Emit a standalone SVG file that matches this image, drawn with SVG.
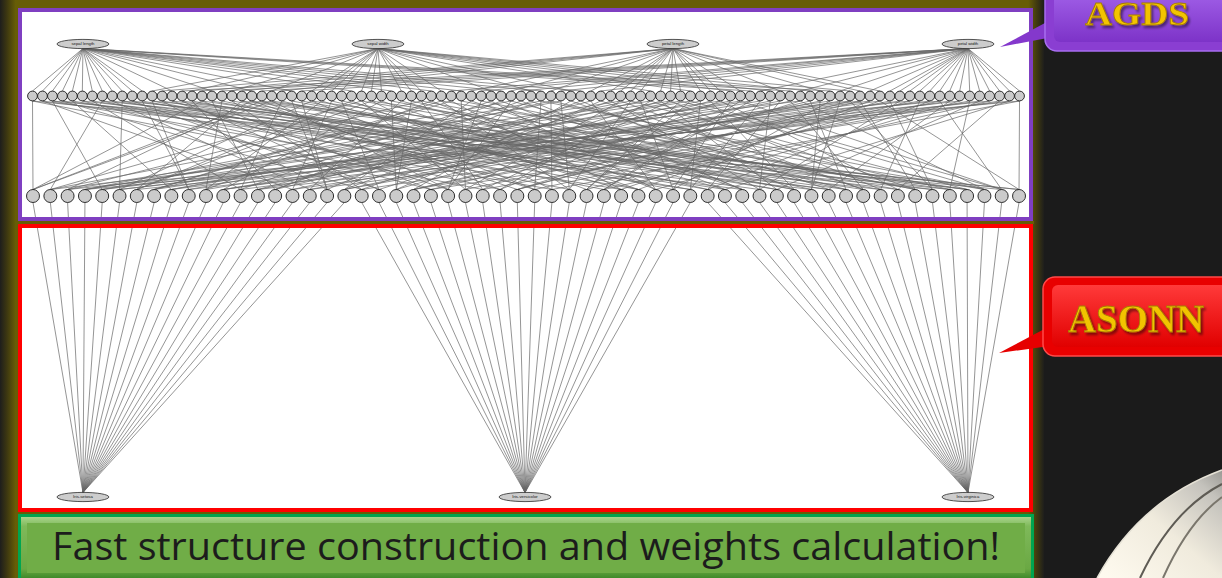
<svg xmlns="http://www.w3.org/2000/svg" width="1222" height="578" viewBox="0 0 1222 578">
<defs>
<linearGradient id="panel" x1="0" y1="0" x2="1" y2="0">
<stop offset="0" stop-color="#1e1e1c"/><stop offset="0.006" stop-color="#3a3512"/><stop offset="0.015" stop-color="#675d06"/><stop offset="0.985" stop-color="#675d06"/><stop offset="0.993" stop-color="#403a10"/><stop offset="1" stop-color="#1e1e1c"/>
</linearGradient>
<linearGradient id="greenBevel" x1="0" y1="0" x2="0" y2="1">
<stop offset="0" stop-color="#a9d48c"/><stop offset="0.15" stop-color="#7fb95a"/><stop offset="0.85" stop-color="#6aa843"/><stop offset="1" stop-color="#3f8a2a"/>
</linearGradient>
<linearGradient id="purp" x1="0" y1="0" x2="0" y2="1">
<stop offset="0" stop-color="#a565ec"/><stop offset="1" stop-color="#7d33c8"/>
</linearGradient>
<linearGradient id="redg" x1="0" y1="0" x2="0" y2="1">
<stop offset="0" stop-color="#ff3a3a"/><stop offset="1" stop-color="#e00000"/>
</linearGradient>
<linearGradient id="silver" x1="0" y1="1" x2="1" y2="0">
<stop offset="0" stop-color="#fffbf0"/><stop offset="0.5" stop-color="#f0ebdd"/><stop offset="0.85" stop-color="#c4c2bc"/><stop offset="1" stop-color="#9a9994"/>
</linearGradient>
<filter id="ds" x="-10%" y="-30%" width="130%" height="170%">
<feDropShadow dx="2" dy="2.5" stdDeviation="1" flood-color="#000" flood-opacity="0.45"/>
</filter>
<style>
.e{fill:none;stroke:#666;stroke-width:0.7}
.v{fill:#cbcbcb;stroke:#1a1a1a;stroke-width:0.9}
.el{fill:#cdcdcd;stroke:#2a2a2a;stroke-width:0.8}
.lb{font-family:"Liberation Sans",Arial,sans-serif;font-size:4.3px;fill:#111;text-anchor:middle}
.gold{font-family:"Liberation Serif","Times New Roman",serif;font-weight:bold;fill:#f2c400;stroke:#a67c00;stroke-width:0.8;filter:url(#ds)}
</style>
</defs>
<rect width="1222" height="578" fill="#1b1b1b"/>
<rect x="0" y="0" width="1044" height="578" fill="url(#panel)"/>
<rect x="20" y="10" width="1011" height="209" fill="#fff"/>
<rect x="20" y="226" width="1011" height="284" fill="#fff"/>

<g id="graph" transform="translate(32.5 0) scale(0.997 1)">
<g id="connectors">
<path class="e" d="M0 91L50.6 48.5L10 91M20 91L50.6 48.5L30 91M40 91L50.6 48.5L50 91M60 91L50.6 48.5L70 91M80 91L50.6 48.5L90 91M100 91L50.6 48.5L110 91M140 91L50.6 48.5L180 91M220 91L50.6 48.5L260 91M320 91L50.6 48.5L360 91M400 91L50.6 48.5L430 91M470 91L50.6 48.5L510 91M550 91L50.6 48.5L720 91M760 91L50.6 48.5L800 91"/>
<path class="e" d="M120 91L346.5 48.5L160 91M200 91L346.5 48.5L240 91M280 91L346.5 48.5L290 91M300 91L346.5 48.5L310 91M330 91L346.5 48.5L340 91M350 91L346.5 48.5L370 91M380 91L346.5 48.5L390 91M410 91L346.5 48.5L460 91M500 91L346.5 48.5L540 91M620 91L346.5 48.5L660 91M700 91L346.5 48.5L740 91M780 91L346.5 48.5L820 91"/>
<path class="e" d="M130 91L642.4 48.5L170 91M210 91L642.4 48.5L250 91M440 91L642.4 48.5L480 91M520 91L642.4 48.5L560 91M580 91L642.4 48.5L590 91M600 91L642.4 48.5L610 91M630 91L642.4 48.5L640 91M650 91L642.4 48.5L670 91M680 91L642.4 48.5L690 91M710 91L642.4 48.5L750 91M790 91L642.4 48.5L830 91M850 91L642.4 48.5"/>
<path class="e" d="M150 91L938.3 48.5L190 91M230 91L938.3 48.5L270 91M420 91L938.3 48.5L450 91M490 91L938.3 48.5L530 91M570 91L938.3 48.5L730 91M770 91L938.3 48.5L810 91M840 91L938.3 48.5L860 91M870 91L938.3 48.5L880 91M890 91L938.3 48.5L900 91M910 91L938.3 48.5L920 91M930 91L938.3 48.5L940 91M950 91L938.3 48.5L960 91M970 91L938.3 48.5L980 91M990 91L938.3 48.5"/>
<path class="e" d="M0 101L0.5 189.5L240 101M170 101L0.5 189.5L230 101M70 101L17.9 189.5L330 101M480 101L17.9 189.5L770 101M220 101L35.2 189.5L390 101M590 101L35.2 189.5L910 101M510 101L52.6 189.5L620 101M640 101L52.6 189.5L990 101M20 101L69.9 189.5L820 101M690 101L69.9 189.5L530 101M90 101L87.3 189.5L280 101M830 101L87.3 189.5L880 101M320 101L104.6 189.5L340 101M210 101L104.6 189.5L960 101M720 101L122 189.5L410 101M520 101L122 189.5L420 101M40 101L139.3 189.5L660 101M600 101L139.3 189.5L840 101M110 101L156.7 189.5L120 101M650 101L156.7 189.5L930 101M400 101L174 189.5L290 101M710 101L174 189.5L190 101M800 101L191.4 189.5L350 101M850 101L191.4 189.5L730 101M60 101L208.7 189.5L460 101M250 101L208.7 189.5L900 101M180 101L226.1 189.5L700 101M560 101L226.1 189.5L980 101M470 101L243.4 189.5L160 101M610 101L243.4 189.5L490 101M10 101L260.8 189.5L300 101M670 101L260.8 189.5L870 101M80 101L278.1 189.5L370 101M750 101L278.1 189.5L950 101M260 101L295.5 189.5L500 101M130 101L295.5 189.5L270 101M550 101L312.8 189.5L740 101M440 101L312.8 189.5L810 101"/>
<path class="e" d="M30 101L330.2 189.5L200 101M580 101L330.2 189.5L920 101M100 101L347.5 189.5L310 101M630 101L347.5 189.5L150 101M360 101L364.9 189.5L380 101M680 101L364.9 189.5L570 101M760 101L382.2 189.5L540 101M790 101L382.2 189.5L890 101M50 101L399.6 189.5L780 101M170 101L399.6 189.5L970 101M140 101L416.9 189.5L240 101M480 101L416.9 189.5L450 101M430 101L434.3 189.5L330 101M590 101L434.3 189.5L860 101M0 101L451.6 189.5L390 101M640 101L451.6 189.5L940 101M70 101L469 189.5L620 101M690 101L469 189.5L230 101M220 101L486.3 189.5L820 101M830 101L486.3 189.5L770 101M510 101L503.7 189.5L280 101M210 101L503.7 189.5L910 101M20 101L521 189.5L340 101M520 101L521 189.5L990 101M90 101L538.4 189.5L410 101M600 101L538.4 189.5L530 101M320 101L555.7 189.5L660 101M650 101L555.7 189.5L880 101M720 101L573.1 189.5L120 101M710 101L573.1 189.5L960 101M40 101L590.4 189.5L290 101M850 101L590.4 189.5L420 101M110 101L607.8 189.5L350 101M250 101L607.8 189.5L840 101M400 101L625.1 189.5L460 101M560 101L625.1 189.5L930 101M800 101L642.5 189.5L700 101M610 101L642.5 189.5L190 101M60 101L659.8 189.5L160 101M670 101L659.8 189.5L730 101"/>
<path class="e" d="M180 101L677.2 189.5L300 101M750 101L677.2 189.5L900 101M470 101L694.5 189.5L370 101M130 101L694.5 189.5L980 101M10 101L711.9 189.5L500 101M440 101L711.9 189.5L490 101M80 101L729.2 189.5L740 101M580 101L729.2 189.5L870 101M260 101L746.6 189.5L200 101M630 101L746.6 189.5L950 101M550 101L763.9 189.5L310 101M680 101L763.9 189.5L270 101M30 101L781.3 189.5L380 101M790 101L781.3 189.5L810 101M100 101L798.6 189.5L540 101M170 101L798.6 189.5L920 101M360 101L816 189.5L780 101M480 101L816 189.5L150 101M760 101L833.3 189.5L240 101M590 101L833.3 189.5L570 101M50 101L850.7 189.5L330 101M640 101L850.7 189.5L890 101M140 101L868 189.5L390 101M690 101L868 189.5L970 101M430 101L885.4 189.5L620 101M830 101L885.4 189.5L450 101M0 101L902.7 189.5L820 101M210 101L902.7 189.5L860 101M70 101L920.1 189.5L280 101M520 101L920.1 189.5L940 101M220 101L937.4 189.5L340 101M600 101L937.4 189.5L230 101M510 101L954.8 189.5L410 101M650 101L954.8 189.5L770 101M20 101L972.1 189.5L660 101M710 101L972.1 189.5L910 101M90 101L989.5 189.5L120 101M850 101L989.5 189.5L990 101"/>
<path class="e" d="M0.5 202.5L50.6 492.5L17.9 202.5M35.2 202.5L50.6 492.5L52.6 202.5M69.9 202.5L50.6 492.5L87.3 202.5M104.6 202.5L50.6 492.5L122 202.5M139.3 202.5L50.6 492.5L156.7 202.5M174 202.5L50.6 492.5L191.4 202.5M208.7 202.5L50.6 492.5L226.1 202.5M243.4 202.5L50.6 492.5L260.8 202.5M278.1 202.5L50.6 492.5L295.5 202.5M312.8 202.5L50.6 492.5"/>
<path class="e" d="M330.2 202.5L494 492.5L347.5 202.5M364.9 202.5L494 492.5L382.2 202.5M399.6 202.5L494 492.5L416.9 202.5M434.3 202.5L494 492.5L451.6 202.5M469 202.5L494 492.5L486.3 202.5M503.7 202.5L494 492.5L521 202.5M538.4 202.5L494 492.5L555.7 202.5M573.1 202.5L494 492.5L590.4 202.5M607.8 202.5L494 492.5L625.1 202.5M642.5 202.5L494 492.5L659.8 202.5"/>
<path class="e" d="M677.2 202.5L938.3 492.5L694.5 202.5M711.9 202.5L938.3 492.5L729.2 202.5M746.6 202.5L938.3 492.5L763.9 202.5M781.3 202.5L938.3 492.5L798.6 202.5M816 202.5L938.3 492.5L833.3 202.5M850.7 202.5L938.3 492.5L868 202.5M885.4 202.5L938.3 492.5L902.7 202.5M920.1 202.5L938.3 492.5L937.4 202.5M954.8 202.5L938.3 492.5L972.1 202.5M989.5 202.5L938.3 492.5"/>
</g>

<g id="sepal-length"><ellipse class="el" cx="50.6" cy="44" rx="26" ry="4.6"/><text class="lb" x="50.6" y="45.5">sepal length</text></g>
<g id="sepal-width"><ellipse class="el" cx="346.5" cy="44" rx="26" ry="4.6"/><text class="lb" x="346.5" y="45.5">sepal width</text></g>
<g id="petal-length"><ellipse class="el" cx="642.4" cy="44" rx="26" ry="4.6"/><text class="lb" x="642.4" y="45.5">petal length</text></g>
<g id="petal-width"><ellipse class="el" cx="938.3" cy="44" rx="26" ry="4.6"/><text class="lb" x="938.3" y="45.5">petal width</text></g>

<g id="iris-setosa"><ellipse class="el" cx="50.6" cy="497" rx="26" ry="4.6"/><text class="lb" x="50.6" y="498.5">Iris-setosa</text></g>
<g id="iris-versicolor"><ellipse class="el" cx="494" cy="497" rx="26" ry="4.6"/><text class="lb" x="494" y="498.5">Iris-versicolor</text></g>
<g id="iris-virginica"><ellipse class="el" cx="938.3" cy="497" rx="26" ry="4.6"/><text class="lb" x="938.3" y="498.5">Iris-virginica</text></g>

<g id="value-nodes">
<g id="v0"><circle class="v" cx="0" cy="96" r="4.9"/></g><g id="v1"><circle class="v" cx="10" cy="96" r="4.9"/></g><g id="v2"><circle class="v" cx="20" cy="96" r="4.9"/></g><g id="v3"><circle class="v" cx="30" cy="96" r="4.9"/></g><g id="v4"><circle class="v" cx="40" cy="96" r="4.9"/></g><g id="v5"><circle class="v" cx="50" cy="96" r="4.9"/></g><g id="v6"><circle class="v" cx="60" cy="96" r="4.9"/></g><g id="v7"><circle class="v" cx="70" cy="96" r="4.9"/></g><g id="v8"><circle class="v" cx="80" cy="96" r="4.9"/></g><g id="v9"><circle class="v" cx="90" cy="96" r="4.9"/></g>
<g id="v10"><circle class="v" cx="100" cy="96" r="4.9"/></g><g id="v11"><circle class="v" cx="110" cy="96" r="4.9"/></g><g id="v12"><circle class="v" cx="120" cy="96" r="4.9"/></g><g id="v13"><circle class="v" cx="130" cy="96" r="4.9"/></g><g id="v14"><circle class="v" cx="140" cy="96" r="4.9"/></g><g id="v15"><circle class="v" cx="150" cy="96" r="4.9"/></g><g id="v16"><circle class="v" cx="160" cy="96" r="4.9"/></g><g id="v17"><circle class="v" cx="170" cy="96" r="4.9"/></g><g id="v18"><circle class="v" cx="180" cy="96" r="4.9"/></g><g id="v19"><circle class="v" cx="190" cy="96" r="4.9"/></g>
<g id="v20"><circle class="v" cx="200" cy="96" r="4.9"/></g><g id="v21"><circle class="v" cx="210" cy="96" r="4.9"/></g><g id="v22"><circle class="v" cx="220" cy="96" r="4.9"/></g><g id="v23"><circle class="v" cx="230" cy="96" r="4.9"/></g><g id="v24"><circle class="v" cx="240" cy="96" r="4.9"/></g><g id="v25"><circle class="v" cx="250" cy="96" r="4.9"/></g><g id="v26"><circle class="v" cx="260" cy="96" r="4.9"/></g><g id="v27"><circle class="v" cx="270" cy="96" r="4.9"/></g><g id="v28"><circle class="v" cx="280" cy="96" r="4.9"/></g><g id="v29"><circle class="v" cx="290" cy="96" r="4.9"/></g>
<g id="v30"><circle class="v" cx="300" cy="96" r="4.9"/></g><g id="v31"><circle class="v" cx="310" cy="96" r="4.9"/></g><g id="v32"><circle class="v" cx="320" cy="96" r="4.9"/></g><g id="v33"><circle class="v" cx="330" cy="96" r="4.9"/></g><g id="v34"><circle class="v" cx="340" cy="96" r="4.9"/></g><g id="v35"><circle class="v" cx="350" cy="96" r="4.9"/></g><g id="v36"><circle class="v" cx="360" cy="96" r="4.9"/></g><g id="v37"><circle class="v" cx="370" cy="96" r="4.9"/></g><g id="v38"><circle class="v" cx="380" cy="96" r="4.9"/></g><g id="v39"><circle class="v" cx="390" cy="96" r="4.9"/></g>
<g id="v40"><circle class="v" cx="400" cy="96" r="4.9"/></g><g id="v41"><circle class="v" cx="410" cy="96" r="4.9"/></g><g id="v42"><circle class="v" cx="420" cy="96" r="4.9"/></g><g id="v43"><circle class="v" cx="430" cy="96" r="4.9"/></g><g id="v44"><circle class="v" cx="440" cy="96" r="4.9"/></g><g id="v45"><circle class="v" cx="450" cy="96" r="4.9"/></g><g id="v46"><circle class="v" cx="460" cy="96" r="4.9"/></g><g id="v47"><circle class="v" cx="470" cy="96" r="4.9"/></g><g id="v48"><circle class="v" cx="480" cy="96" r="4.9"/></g><g id="v49"><circle class="v" cx="490" cy="96" r="4.9"/></g>
<g id="v50"><circle class="v" cx="500" cy="96" r="4.9"/></g><g id="v51"><circle class="v" cx="510" cy="96" r="4.9"/></g><g id="v52"><circle class="v" cx="520" cy="96" r="4.9"/></g><g id="v53"><circle class="v" cx="530" cy="96" r="4.9"/></g><g id="v54"><circle class="v" cx="540" cy="96" r="4.9"/></g><g id="v55"><circle class="v" cx="550" cy="96" r="4.9"/></g><g id="v56"><circle class="v" cx="560" cy="96" r="4.9"/></g><g id="v57"><circle class="v" cx="570" cy="96" r="4.9"/></g><g id="v58"><circle class="v" cx="580" cy="96" r="4.9"/></g><g id="v59"><circle class="v" cx="590" cy="96" r="4.9"/></g>
<g id="v60"><circle class="v" cx="600" cy="96" r="4.9"/></g><g id="v61"><circle class="v" cx="610" cy="96" r="4.9"/></g><g id="v62"><circle class="v" cx="620" cy="96" r="4.9"/></g><g id="v63"><circle class="v" cx="630" cy="96" r="4.9"/></g><g id="v64"><circle class="v" cx="640" cy="96" r="4.9"/></g><g id="v65"><circle class="v" cx="650" cy="96" r="4.9"/></g><g id="v66"><circle class="v" cx="660" cy="96" r="4.9"/></g><g id="v67"><circle class="v" cx="670" cy="96" r="4.9"/></g><g id="v68"><circle class="v" cx="680" cy="96" r="4.9"/></g><g id="v69"><circle class="v" cx="690" cy="96" r="4.9"/></g>
<g id="v70"><circle class="v" cx="700" cy="96" r="4.9"/></g><g id="v71"><circle class="v" cx="710" cy="96" r="4.9"/></g><g id="v72"><circle class="v" cx="720" cy="96" r="4.9"/></g><g id="v73"><circle class="v" cx="730" cy="96" r="4.9"/></g><g id="v74"><circle class="v" cx="740" cy="96" r="4.9"/></g><g id="v75"><circle class="v" cx="750" cy="96" r="4.9"/></g><g id="v76"><circle class="v" cx="760" cy="96" r="4.9"/></g><g id="v77"><circle class="v" cx="770" cy="96" r="4.9"/></g><g id="v78"><circle class="v" cx="780" cy="96" r="4.9"/></g><g id="v79"><circle class="v" cx="790" cy="96" r="4.9"/></g>
<g id="v80"><circle class="v" cx="800" cy="96" r="4.9"/></g><g id="v81"><circle class="v" cx="810" cy="96" r="4.9"/></g><g id="v82"><circle class="v" cx="820" cy="96" r="4.9"/></g><g id="v83"><circle class="v" cx="830" cy="96" r="4.9"/></g><g id="v84"><circle class="v" cx="840" cy="96" r="4.9"/></g><g id="v85"><circle class="v" cx="850" cy="96" r="4.9"/></g><g id="v86"><circle class="v" cx="860" cy="96" r="4.9"/></g><g id="v87"><circle class="v" cx="870" cy="96" r="4.9"/></g><g id="v88"><circle class="v" cx="880" cy="96" r="4.9"/></g><g id="v89"><circle class="v" cx="890" cy="96" r="4.9"/></g>
<g id="v90"><circle class="v" cx="900" cy="96" r="4.9"/></g><g id="v91"><circle class="v" cx="910" cy="96" r="4.9"/></g><g id="v92"><circle class="v" cx="920" cy="96" r="4.9"/></g><g id="v93"><circle class="v" cx="930" cy="96" r="4.9"/></g><g id="v94"><circle class="v" cx="940" cy="96" r="4.9"/></g><g id="v95"><circle class="v" cx="950" cy="96" r="4.9"/></g><g id="v96"><circle class="v" cx="960" cy="96" r="4.9"/></g><g id="v97"><circle class="v" cx="970" cy="96" r="4.9"/></g><g id="v98"><circle class="v" cx="980" cy="96" r="4.9"/></g><g id="v99"><circle class="v" cx="990" cy="96" r="4.9"/></g>
</g>

<g id="object-nodes">
<g id="o0"><circle class="v" cx="0.5" cy="196" r="6.5"/></g><g id="o1"><circle class="v" cx="17.9" cy="196" r="6.5"/></g><g id="o2"><circle class="v" cx="35.2" cy="196" r="6.5"/></g><g id="o3"><circle class="v" cx="52.6" cy="196" r="6.5"/></g><g id="o4"><circle class="v" cx="69.9" cy="196" r="6.5"/></g><g id="o5"><circle class="v" cx="87.3" cy="196" r="6.5"/></g><g id="o6"><circle class="v" cx="104.6" cy="196" r="6.5"/></g><g id="o7"><circle class="v" cx="122" cy="196" r="6.5"/></g><g id="o8"><circle class="v" cx="139.3" cy="196" r="6.5"/></g><g id="o9"><circle class="v" cx="156.7" cy="196" r="6.5"/></g>
<g id="o10"><circle class="v" cx="174" cy="196" r="6.5"/></g><g id="o11"><circle class="v" cx="191.4" cy="196" r="6.5"/></g><g id="o12"><circle class="v" cx="208.7" cy="196" r="6.5"/></g><g id="o13"><circle class="v" cx="226.1" cy="196" r="6.5"/></g><g id="o14"><circle class="v" cx="243.4" cy="196" r="6.5"/></g><g id="o15"><circle class="v" cx="260.8" cy="196" r="6.5"/></g><g id="o16"><circle class="v" cx="278.1" cy="196" r="6.5"/></g><g id="o17"><circle class="v" cx="295.5" cy="196" r="6.5"/></g><g id="o18"><circle class="v" cx="312.8" cy="196" r="6.5"/></g><g id="o19"><circle class="v" cx="330.2" cy="196" r="6.5"/></g>
<g id="o20"><circle class="v" cx="347.5" cy="196" r="6.5"/></g><g id="o21"><circle class="v" cx="364.9" cy="196" r="6.5"/></g><g id="o22"><circle class="v" cx="382.2" cy="196" r="6.5"/></g><g id="o23"><circle class="v" cx="399.6" cy="196" r="6.5"/></g><g id="o24"><circle class="v" cx="416.9" cy="196" r="6.5"/></g><g id="o25"><circle class="v" cx="434.3" cy="196" r="6.5"/></g><g id="o26"><circle class="v" cx="451.6" cy="196" r="6.5"/></g><g id="o27"><circle class="v" cx="469" cy="196" r="6.5"/></g><g id="o28"><circle class="v" cx="486.3" cy="196" r="6.5"/></g><g id="o29"><circle class="v" cx="503.7" cy="196" r="6.5"/></g>
<g id="o30"><circle class="v" cx="521" cy="196" r="6.5"/></g><g id="o31"><circle class="v" cx="538.4" cy="196" r="6.5"/></g><g id="o32"><circle class="v" cx="555.7" cy="196" r="6.5"/></g><g id="o33"><circle class="v" cx="573.1" cy="196" r="6.5"/></g><g id="o34"><circle class="v" cx="590.4" cy="196" r="6.5"/></g><g id="o35"><circle class="v" cx="607.8" cy="196" r="6.5"/></g><g id="o36"><circle class="v" cx="625.1" cy="196" r="6.5"/></g><g id="o37"><circle class="v" cx="642.5" cy="196" r="6.5"/></g><g id="o38"><circle class="v" cx="659.8" cy="196" r="6.5"/></g><g id="o39"><circle class="v" cx="677.2" cy="196" r="6.5"/></g>
<g id="o40"><circle class="v" cx="694.5" cy="196" r="6.5"/></g><g id="o41"><circle class="v" cx="711.9" cy="196" r="6.5"/></g><g id="o42"><circle class="v" cx="729.2" cy="196" r="6.5"/></g><g id="o43"><circle class="v" cx="746.6" cy="196" r="6.5"/></g><g id="o44"><circle class="v" cx="763.9" cy="196" r="6.5"/></g><g id="o45"><circle class="v" cx="781.3" cy="196" r="6.5"/></g><g id="o46"><circle class="v" cx="798.6" cy="196" r="6.5"/></g><g id="o47"><circle class="v" cx="816" cy="196" r="6.5"/></g><g id="o48"><circle class="v" cx="833.3" cy="196" r="6.5"/></g><g id="o49"><circle class="v" cx="850.7" cy="196" r="6.5"/></g>
<g id="o50"><circle class="v" cx="868" cy="196" r="6.5"/></g><g id="o51"><circle class="v" cx="885.4" cy="196" r="6.5"/></g><g id="o52"><circle class="v" cx="902.7" cy="196" r="6.5"/></g><g id="o53"><circle class="v" cx="920.1" cy="196" r="6.5"/></g><g id="o54"><circle class="v" cx="937.4" cy="196" r="6.5"/></g><g id="o55"><circle class="v" cx="954.8" cy="196" r="6.5"/></g><g id="o56"><circle class="v" cx="972.1" cy="196" r="6.5"/></g><g id="o57"><circle class="v" cx="989.5" cy="196" r="6.5"/></g>
</g>
</g>

<rect x="18" y="221" width="1016" height="3" fill="#675d06"/>
<rect id="agds-box" x="20" y="10" width="1011" height="209" fill="none" stroke="#7f3fc1" stroke-width="4"/>
<rect id="asonn-box" x="20" y="226" width="1011" height="284" fill="none" stroke="#ff0000" stroke-width="4"/>

<g id="agds-callout">
<polygon points="1058,16 1000,47 1058,36" fill="#8438cc"/>
<rect x="1045" y="-20" width="200" height="71" rx="12" fill="#8a3ed2" stroke="#a86ef0" stroke-width="1.5"/>
<rect x="1054" y="-14" width="190" height="56" rx="6" fill="url(#purp)"/>
<text class="gold" x="1137" y="25" font-size="34" text-anchor="middle" textLength="104" lengthAdjust="spacingAndGlyphs">AGDS</text>
</g>

<g id="asonn-callout">
<polygon points="1052,325 999,353 1064,344" fill="#e60000"/>
<rect x="1043" y="277" width="200" height="79" rx="12" fill="#e80000" stroke="#ff4a4a" stroke-width="1.5"/>
<rect x="1052" y="285" width="190" height="62" rx="6" fill="url(#redg)"/>
<text class="gold" x="1136" y="331.5" font-size="40" text-anchor="middle" textLength="136" lengthAdjust="spacingAndGlyphs">ASONN</text>
</g>

<g id="banner">
<rect x="18" y="514" width="1016" height="64" fill="#00a550"/>
<rect x="21" y="517" width="1010" height="61" fill="url(#greenBevel)"/>
<rect x="27" y="523" width="998" height="50" fill="#70ad47"/>
<text x="52" y="560" font-family="'Open Sans','Liberation Sans',sans-serif" font-size="38" fill="#1c1c1c" textLength="948" lengthAdjust="spacingAndGlyphs">Fast structure construction and weights calculation!</text>
</g>

<g id="swoosh">
<path d="M1097 578 Q1140 500 1222 470 L1222 578 Z" fill="url(#silver)"/>
<path d="M1140 578 Q1172 510 1222 484" fill="none" stroke="#5e5b54" stroke-width="2"/>
<path d="M1163 578 Q1188 522 1222 497" fill="none" stroke="#7a766c" stroke-width="2"/>
<path d="M1097 578 Q1140 500 1222 470" fill="none" stroke="#e6e2d6" stroke-width="1.5"/>
</g>
</svg>
